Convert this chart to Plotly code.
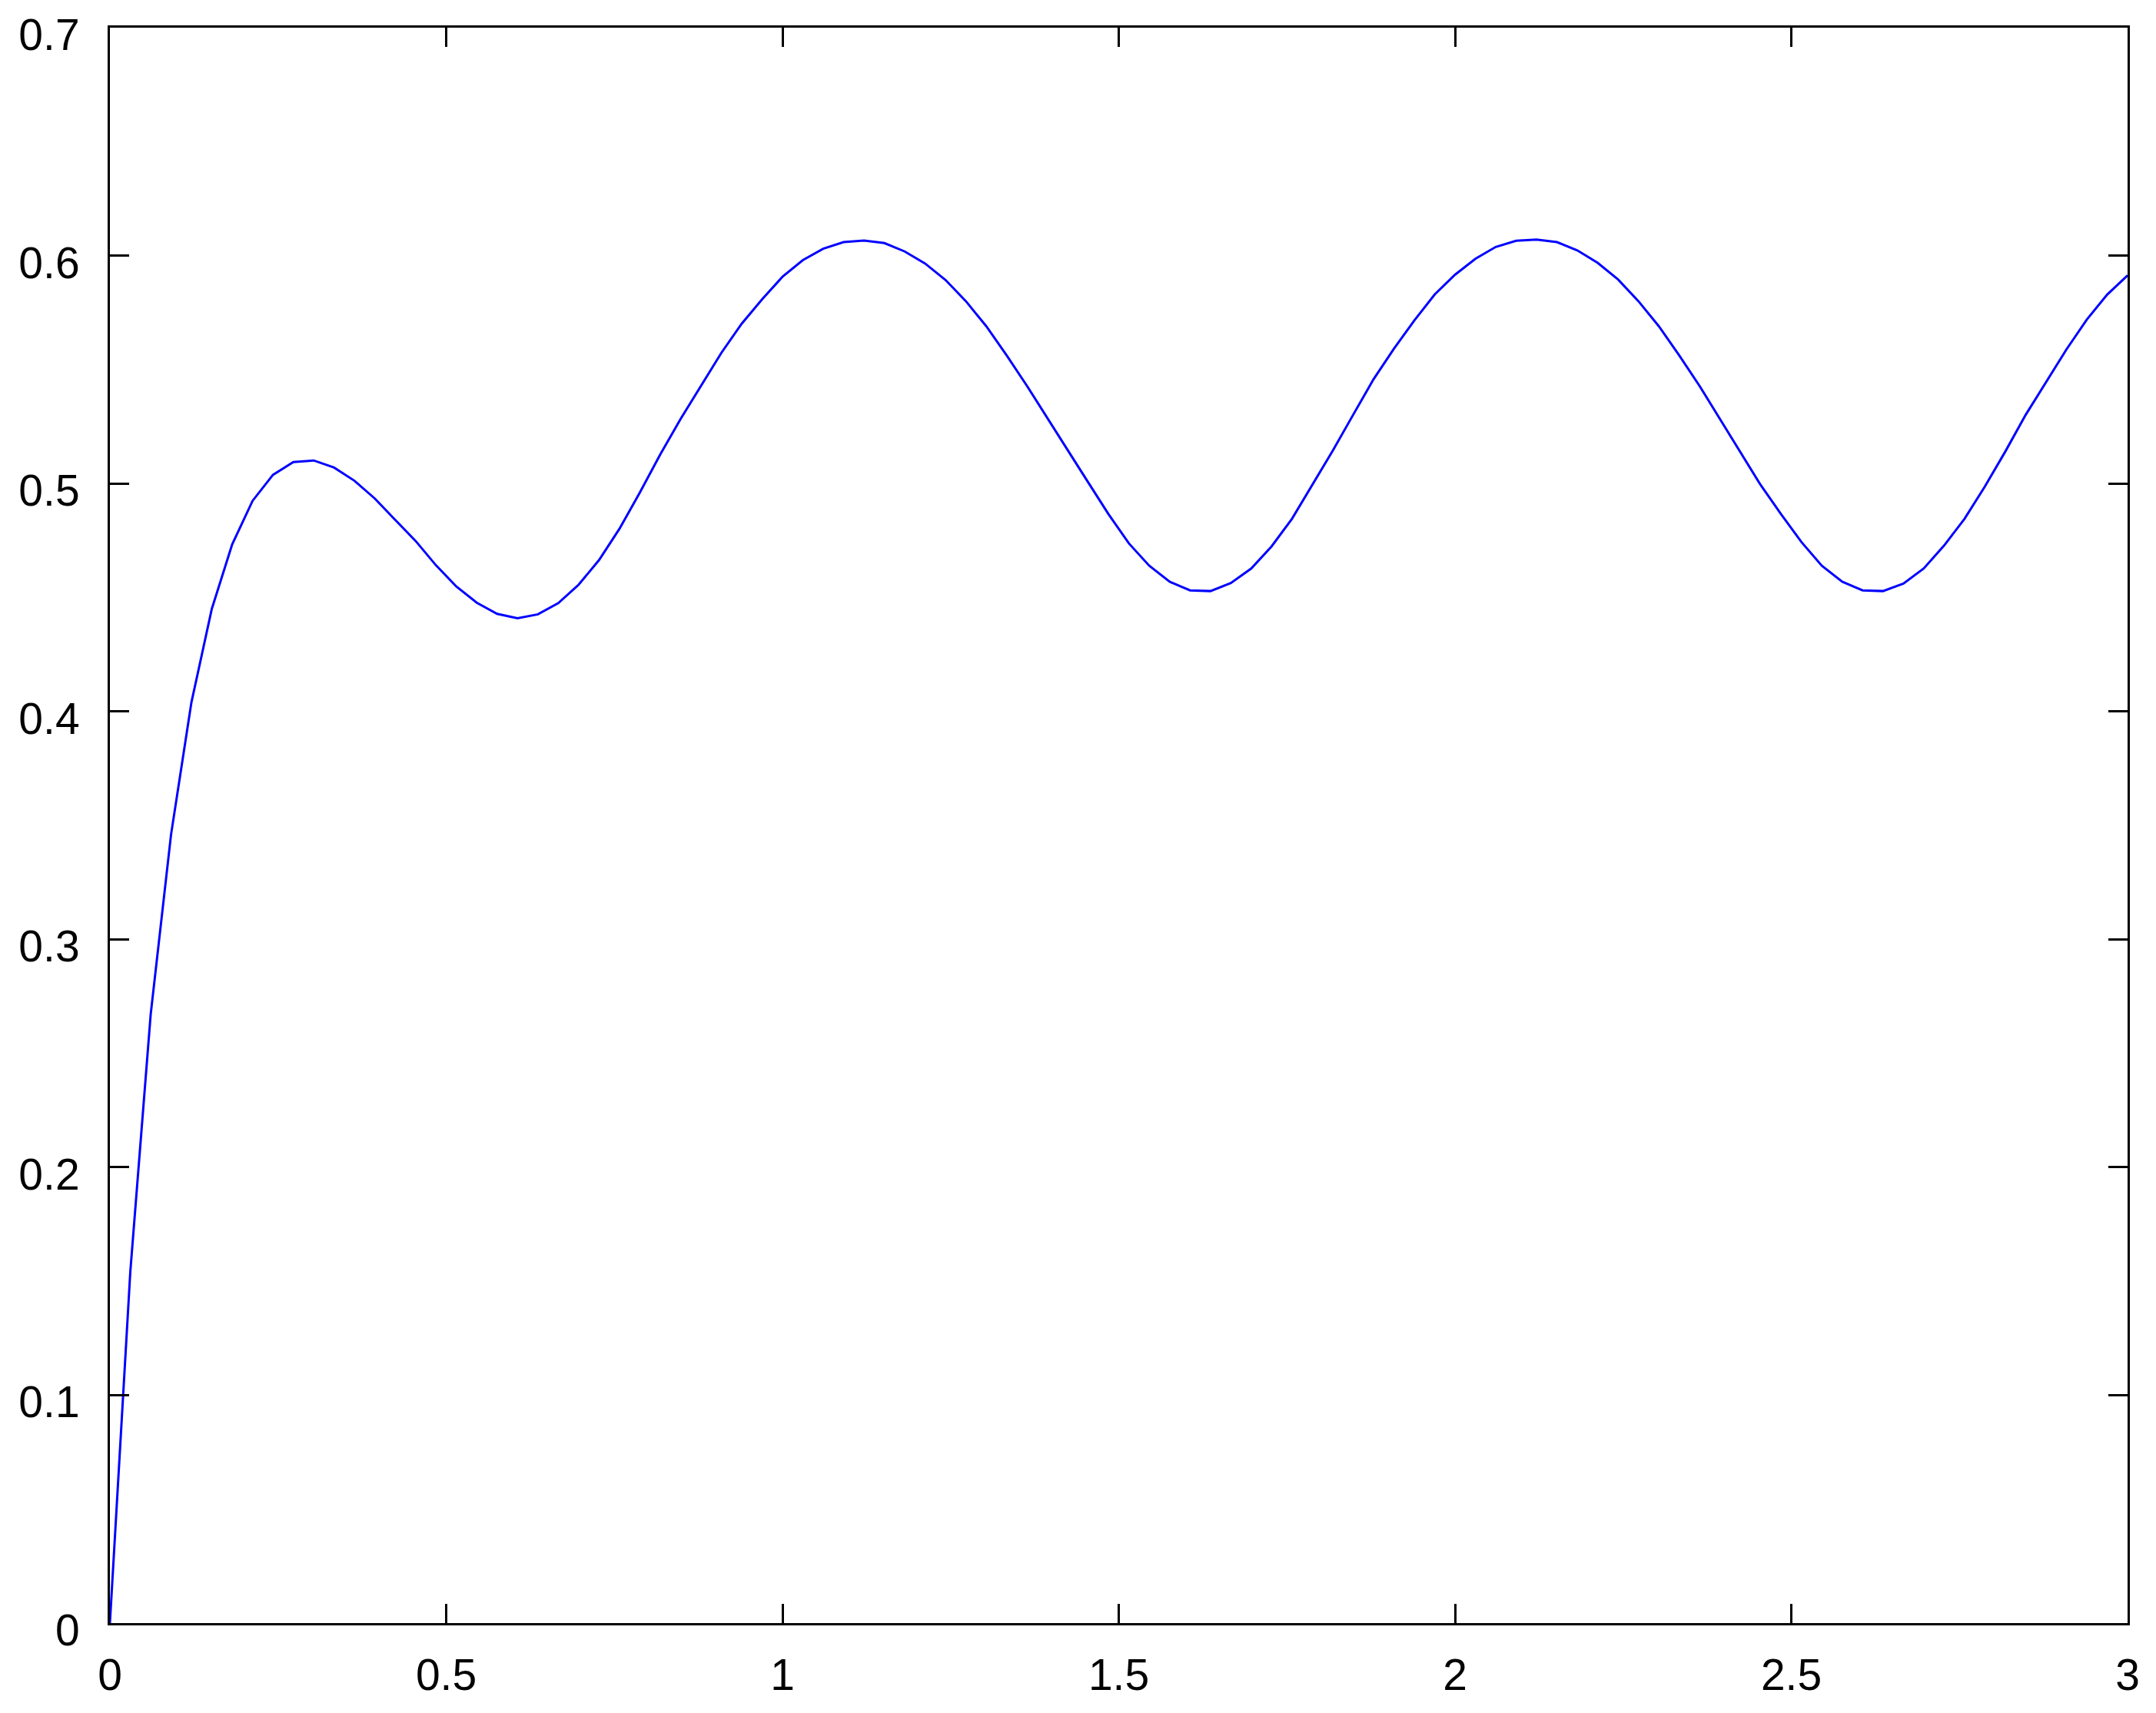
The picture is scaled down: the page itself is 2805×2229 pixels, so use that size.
import plotly.graph_objects as go

# Sample times: 100 evenly spaced samples over [0, 3]
t_values = [round(i * 3 / 99, 5) for i in range(100)]

# Response values
y_values = [
    0.0, 0.154, 0.267, 0.346, 0.404, 0.445, 0.4733, 0.4924, 0.5038, 0.5094,
    0.5101, 0.5070, 0.5012, 0.4934, 0.4840, 0.4748, 0.4641, 0.4548, 0.4477, 0.4428,
    0.4409, 0.4426, 0.4475, 0.4556, 0.4664, 0.4801, 0.4960, 0.5127, 0.5283, 0.5428,
    0.5573, 0.5701, 0.5808, 0.5907, 0.5980, 0.6030, 0.6059, 0.6066, 0.6055, 0.6018,
    0.5965, 0.5893, 0.5800, 0.5690, 0.5562, 0.5428, 0.5289, 0.5146, 0.5005, 0.4865,
    0.4737, 0.4639, 0.4569, 0.4531, 0.4528, 0.4563, 0.4627, 0.4724, 0.4845, 0.4993,
    0.5144, 0.5301, 0.5457, 0.5591, 0.5715, 0.5829, 0.5916, 0.5986, 0.6038, 0.6065,
    0.6070, 0.6059, 0.6023, 0.5968, 0.5895, 0.5800, 0.5690, 0.5562, 0.5428, 0.5283,
    0.5138, 0.4993, 0.4865, 0.4743, 0.4639, 0.4569, 0.4531, 0.4528, 0.4561, 0.4627,
    0.4728, 0.4845, 0.4987, 0.5140, 0.5301, 0.5446, 0.5588, 0.5719, 0.5829, 0.5913,
]

x_range = [0, 3]
y_range = [0, 0.7]
x_dtick = 0.5
y_dtick = 0.1

fig = go.Figure()
fig.add_trace(go.Scatter(
    x=t_values, y=y_values, mode="lines",
    line=dict(color="#0000ff", width=3),
    showlegend=False, hoverinfo="skip",
))

axis_common = dict(
    showgrid=False, zeroline=False, automargin=False,
    showline=True, linecolor="black", linewidth=3, mirror="allticks",
    ticks="inside", ticklen=25, tickwidth=3, tickcolor="black",
    ticklabeloverflow="allow",
    tickfont=dict(family="Liberation Sans, Arial, sans-serif", size=57, color="black"),
)

fig.update_xaxes(range=x_range, dtick=x_dtick, tick0=0, ticklabelstandoff=16, **axis_common)
fig.update_yaxes(range=y_range, dtick=y_dtick, tick0=0, ticklabelstandoff=25,
                 ticklabelshift=9, **axis_common)

fig.update_layout(
    width=2805, height=2229,
    margin=dict(l=135, r=45, t=28, b=125, pad=0),
    paper_bgcolor="white", plot_bgcolor="white",
)

fig.write_html("out.html")
